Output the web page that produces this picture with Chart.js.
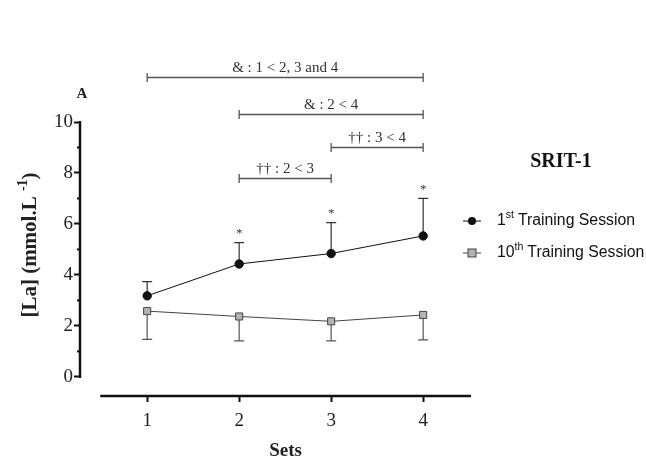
<!DOCTYPE html>
<html>
<head>
<meta charset="utf-8">
<script src="https://cdn.jsdelivr.net/npm/chart.js@4/dist/chart.umd.min.js"></script>
<style>
    html, body { margin: 0; padding: 0; background: #fff; }
    #chart { display: block; }
</style>
</head>
<body>
<canvas id="chart" width="646" height="460"></canvas>
<script>
// Blood lactate per set, SRIT-1 (mean and SD)
const sets = [1, 2, 3, 4];
const session1Mean = [3.18, 4.43, 4.84, 5.53];
const session1Sd = [0.56, 0.84, 1.21, 1.47];
const session10Mean = [2.58, 2.37, 2.18, 2.43];
const session10Sd = [1.11, 0.96, 0.77, 0.98];

const yTicks = [0, 1, 2, 3, 4, 5, 6, 7, 8, 9, 10];
const yLabelled = [0, 2, 4, 6, 8, 10];
const starSets = [2, 3, 4];

// significance brackets: from set, to set, height in mmol/L
const bracketFrom = [1, 2, 3, 2];
const bracketTo = [4, 4, 4, 3];
const bracketLevel = [11.75, 10.32, 9.0, 7.82];
const bracketText = ['& : 1 < 2, 3 and 4', '& : 2 < 4', '\u2020\u2020 : 3 < 4', '\u2020\u2020 : 2 < 3'];

const SERIF = '"Liberation Serif", "Times New Roman", serif';
const SANS = '"Liberation Sans", Arial, sans-serif';

// error bars: 1st session goes up, 10th session goes down
const errorBars = {
    id: 'errorBars',
    beforeDatasetsDraw(chart) {
        const { ctx, scales: { x, y } } = chart;
        ctx.save();
        const draw = (means, sds, dir, color) => {
            ctx.strokeStyle = color;
            ctx.lineWidth = 1.2;
            sets.forEach((s, i) => {
                const px = x.getPixelForValue(s);
                const y0 = y.getPixelForValue(means[i]);
                const y1 = y.getPixelForValue(means[i] + dir * sds[i]);
                ctx.beginPath();
                ctx.moveTo(px, y0);
                ctx.lineTo(px, y1);
                ctx.moveTo(px - 5, y1);
                ctx.lineTo(px + 5, y1);
                ctx.stroke();
            });
        };
        draw(session1Mean, session1Sd, 1, '#333');
        draw(session10Mean, session10Sd, -1, '#555');
        ctx.restore();
    }
};

// axes, titles, brackets, stars and legend
const decorations = {
    id: 'decorations',
    afterDraw(chart) {
        const { ctx, chartArea, scales: { x, y } } = chart;
        ctx.save();

        // y axis line + minor ticks
        ctx.strokeStyle = '#111';
        ctx.lineWidth = 2.5;
        ctx.beginPath();
        ctx.moveTo(chartArea.left, y.getPixelForValue(0) + 1);
        ctx.lineTo(chartArea.left, y.getPixelForValue(10) - 1);
        ctx.stroke();
        ctx.lineWidth = 2;
        yTicks.filter(v => !yLabelled.includes(v)).forEach(v => {
            const py = y.getPixelForValue(v);
            ctx.beginPath();
            ctx.moveTo(chartArea.left - 3, py);
            ctx.lineTo(chartArea.left, py);
            ctx.stroke();
        });

        // x axis line
        ctx.lineWidth = 2.5;
        ctx.beginPath();
        ctx.moveTo(x.getPixelForValue(0.49), chartArea.bottom);
        ctx.lineTo(x.getPixelForValue(4.52), chartArea.bottom);
        ctx.stroke();

        // axis titles
        ctx.fillStyle = '#222';
        ctx.textBaseline = 'middle';
        ctx.textAlign = 'center';
        ctx.font = 'bold 19px ' + SERIF;
        ctx.fillText('Sets', (x.getPixelForValue(0.49) + x.getPixelForValue(4.52)) / 2, 451);

        ctx.save();
        ctx.translate(31, 245);
        ctx.rotate(-Math.PI / 2);
        const big = 'bold 21px ' + SERIF;
        const small = 'bold 14px ' + SERIF;
        ctx.font = big;
        const w1 = ctx.measureText('[La] (mmol.L ').width;
        const w3 = ctx.measureText(')').width;
        ctx.font = small;
        const w2 = ctx.measureText('-1').width;
        let tx = -(w1 + w2 + w3) / 2;
        ctx.textAlign = 'left';
        ctx.font = big;
        ctx.fillText('[La] (mmol.L ', tx, 0);
        tx += w1;
        ctx.font = small;
        ctx.fillText('-1', tx, -8);
        tx += w2;
        ctx.font = big;
        ctx.fillText(')', tx, 0);
        ctx.restore();

        // panel letter
        ctx.textAlign = 'center';
        ctx.font = 'bold 15px ' + SERIF;
        ctx.fillText('A', 82, 94);

        // brackets
        ctx.strokeStyle = '#555';
        ctx.lineWidth = 1.3;
        ctx.fillStyle = '#333';
        ctx.font = '15px ' + SERIF;
        ctx.textBaseline = 'alphabetic';
        bracketText.forEach((label, i) => {
            const xa = x.getPixelForValue(bracketFrom[i]);
            const xb = x.getPixelForValue(bracketTo[i]);
            const py = Math.round(y.getPixelForValue(bracketLevel[i])) + 0.5;
            ctx.beginPath();
            ctx.moveTo(xa, py);
            ctx.lineTo(xb, py);
            ctx.moveTo(xa, py - 4.5);
            ctx.lineTo(xa, py + 4.5);
            ctx.moveTo(xb, py - 4.5);
            ctx.lineTo(xb, py + 4.5);
            ctx.stroke();
            ctx.fillText(label, (xa + xb) / 2, py - 6);
        });

        // stars above 1st session error bars
        ctx.font = '13px ' + SERIF;
        ctx.textBaseline = 'middle';
        starSets.forEach(s => {
            const i = sets.indexOf(s);
            const py = y.getPixelForValue(session1Mean[i] + session1Sd[i]);
            ctx.fillText('*', x.getPixelForValue(s), py - 9);
        });

        // legend
        ctx.fillStyle = '#111';
        ctx.font = 'bold 20px ' + SERIF;
        ctx.textAlign = 'center';
        ctx.fillText('SRIT-1', 561, 162);

        const items = [
            { y: 221, num: '1', sup: 'st', ds: chart.data.datasets[0] },
            { y: 253, num: '10', sup: 'th', ds: chart.data.datasets[1] }
        ];
        items.forEach(it => {
            ctx.strokeStyle = it.ds.borderColor;
            ctx.lineWidth = 1;
            ctx.beginPath();
            ctx.moveTo(463, it.y);
            ctx.lineTo(481, it.y);
            ctx.stroke();
            ctx.fillStyle = it.ds.pointBackgroundColor;
            ctx.strokeStyle = it.ds.pointBorderColor;
            if (it.ds.pointStyle === 'circle') {
                ctx.beginPath();
                ctx.arc(472, it.y, 4, 0, Math.PI * 2);
                ctx.fill();
            } else {
                ctx.fillRect(468, it.y - 4, 8, 8);
                ctx.strokeRect(468, it.y - 4, 8, 8);
            }
            ctx.fillStyle = '#111';
            ctx.textAlign = 'left';
            let lx = 497;
            ctx.font = '15.8px ' + SANS;
            ctx.fillText(it.num, lx, it.y);
            lx += ctx.measureText(it.num).width;
            ctx.font = '10.5px ' + SANS;
            ctx.fillText(it.sup, lx, it.y - 6);
            lx += ctx.measureText(it.sup).width + 4;
            ctx.font = '15.8px ' + SANS;
            ctx.fillText('Training Session', lx, it.y);
        });

        ctx.restore();
    }
};

const ctx = document.getElementById('chart').getContext('2d');
const chart = new Chart(ctx, {
    type: 'line',
    data: {
        datasets: [{
            label: '1st Training Session',
            data: sets.map((s, i) => ({ x: s, y: session1Mean[i] })),
            borderColor: '#111',
            borderWidth: 1,
            pointStyle: 'circle',
            pointRadius: 4.2,
            pointBackgroundColor: '#111',
            pointBorderColor: '#111',
            pointBorderWidth: 1
        }, {
            label: '10th Training Session',
            data: sets.map((s, i) => ({ x: s, y: session10Mean[i] })),
            borderColor: '#444',
            borderWidth: 1,
            pointStyle: 'rect',
            pointRadius: 5,
            pointBackgroundColor: '#b3b3b3',
            pointBorderColor: '#444',
            pointBorderWidth: 1
        }]
    },
    options: {
        responsive: false,
        animation: false,
        devicePixelRatio: 1,
        clip: false,
        layout: {
            padding: { top: 122, right: 175, bottom: 0, left: 0 }
        },
        plugins: {
            legend: { display: false },
            tooltip: { enabled: false }
        },
        elements: {
            line: { tension: 0 }
        },
        scales: {
            x: {
                type: 'linear',
                min: 0.27,
                max: 4.52,
                afterBuildTicks: scale => {
                    scale.ticks = sets.map(v => ({ value: v }));
                },
                afterFit: scale => {
                    scale.height = 64;
                },
                ticks: {
                    autoSkip: false,
                    maxRotation: 0,
                    padding: 8,
                    color: '#222',
                    font: { family: SERIF, size: 19 }
                },
                grid: {
                    drawOnChartArea: false,
                    drawTicks: true,
                    tickLength: 6,
                    tickWidth: 2,
                    tickColor: '#111'
                },
                border: { display: false }
            },
            y: {
                type: 'linear',
                min: -0.75,
                max: 10,
                afterBuildTicks: scale => {
                    scale.ticks = yLabelled.map(v => ({ value: v }));
                },
                afterFit: scale => {
                    scale.width = 80;
                },
                ticks: {
                    autoSkip: false,
                    padding: 1,
                    color: '#222',
                    font: { family: SERIF, size: 19 }
                },
                grid: {
                    drawOnChartArea: false,
                    drawTicks: true,
                    tickLength: 6,
                    tickWidth: 2,
                    tickColor: '#111'
                },
                border: { display: false }
            }
        }
    },
    plugins: [errorBars, decorations]
});
</script>
</body>
</html>
